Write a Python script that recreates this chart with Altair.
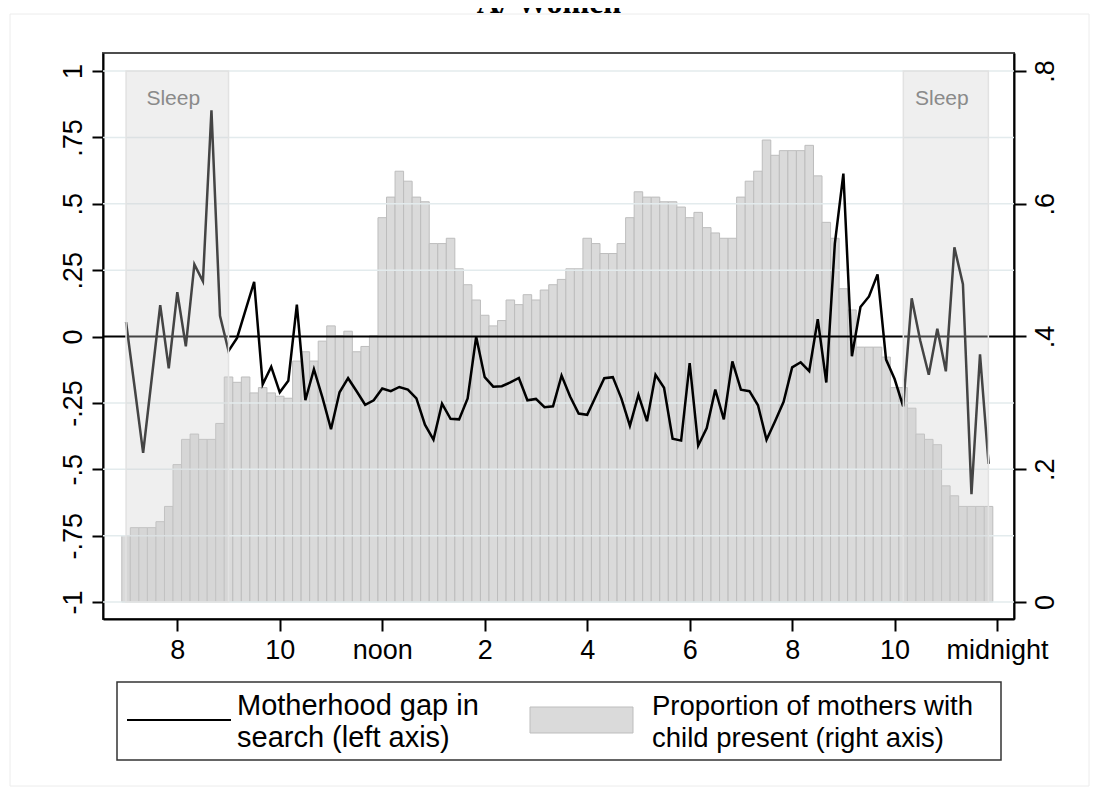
import altair as alt
import pandas as pd

# ---------------- data ----------------
start_hour = 7.0
step_minutes = 10

gap_values = [
    0.054, -0.19, -0.438, -0.16, 0.118, -0.12, 0.167, -0.037, 0.272, 0.208,
    0.852, 0.078, -0.054, -0.005, 0.10, 0.206, -0.18, -0.114, -0.21, -0.167,
    0.12, -0.24, -0.123, -0.23, -0.349, -0.21, -0.157, -0.206, -0.257, -0.24,
    -0.196, -0.206, -0.19, -0.20, -0.233, -0.332, -0.388, -0.253, -0.31, -0.312,
    -0.233, -0.001, -0.153, -0.189, -0.187, -0.173, -0.156, -0.24, -0.235, -0.266,
    -0.263, -0.147, -0.226, -0.29, -0.295, -0.226, -0.157, -0.153, -0.233, -0.336,
    -0.22, -0.319, -0.144, -0.193, -0.385, -0.392, -0.10, -0.411, -0.345, -0.20,
    -0.312, -0.094, -0.20, -0.206, -0.259, -0.389, -0.319, -0.246, -0.116, -0.097,
    -0.13, 0.065, -0.173, 0.35, 0.614, -0.074, 0.111, 0.151, 0.234, -0.087,
    -0.16, -0.263, 0.144, -0.015, -0.144, 0.029, -0.131, 0.336, 0.197, -0.594,
    -0.067, -0.48,
]

share_values = [
    0.100, 0.112, 0.112, 0.112, 0.121, 0.144, 0.207, 0.245, 0.253, 0.245,
    0.245, 0.269, 0.339, 0.331, 0.339, 0.315, 0.323, 0.315, 0.310, 0.307,
    0.363, 0.377, 0.363, 0.393, 0.416, 0.401, 0.408, 0.377, 0.385, 0.401,
    0.579, 0.610, 0.649, 0.634, 0.610, 0.603, 0.540, 0.540, 0.548, 0.502,
    0.478, 0.455, 0.432, 0.416, 0.424, 0.455, 0.448, 0.463, 0.455, 0.470,
    0.478, 0.486, 0.502, 0.502, 0.548, 0.540, 0.525, 0.525, 0.540, 0.579,
    0.618, 0.610, 0.610, 0.603, 0.603, 0.595, 0.579, 0.587, 0.564, 0.556,
    0.548, 0.548, 0.610, 0.634, 0.649, 0.696, 0.673, 0.680, 0.680, 0.680,
    0.688, 0.642, 0.572, 0.548, 0.472, 0.440, 0.384, 0.384, 0.384, 0.369,
    0.323, 0.323, 0.292, 0.253, 0.245, 0.237, 0.175, 0.160, 0.144, 0.144,
    0.144, 0.144,
]

sleep_start = [7.0, 22.17]
sleep_end = [9.0, 23.83]
sleep_labels = ["Sleep", "Sleep"]

x_tick_values = [8, 10, 12, 14, 16, 18, 20, 22, 24]
x_tick_labels = ["8", "10", "noon", "2", "4", "6", "8", "10", "midnight"]

left_tick_values = [-1, -0.75, -0.5, -0.25, 0, 0.25, 0.5, 0.75, 1]
left_tick_labels = ["-1", "-.75", "-.5", "-.25", "0", ".25", ".5", ".75", "1"]
grid_values = [-1, -0.75, -0.5, -0.25, 0.25, 0.5, 0.75, 1]

right_tick_values = [0, 0.2, 0.4, 0.6, 0.8]
right_tick_labels = ["0", ".2", ".4", ".6", ".8"]

legend_line_label = "Motherhood gap in\nsearch (left axis)"
legend_bar_label = "Proportion of mothers with\nchild present (right axis)"
title_text = "A/ Women"

# ---------------- tables ----------------
n = len(gap_values)
hours = [start_hour + i * step_minutes / 60 for i in range(n)]
half = step_minutes / 120
df = pd.DataFrame({
    "hour": hours,
    "gap": gap_values,
    "share": share_values,
    "x0": [h - half for h in hours],
    "x1": [h + half for h in hours],
})
bands = pd.DataFrame({
    "start": sleep_start,
    "end": sleep_end,
    "mid": [(a + b) / 2 for a, b in zip(sleep_start, sleep_end)],
    "label": sleep_labels,
})
grid_df = pd.DataFrame({"v": grid_values})
one = pd.DataFrame({"a": [0]})

FONT = "Liberation Sans"
LABEL_SIZE = 27


def label_expr(vals, labs):
    vs = ",".join(repr(float(v)) for v in vals)
    ls = ",".join("'" + s + "'" for s in labs)
    return f"[{ls}][indexof([{vs}], datum.value)]"


x_scale = alt.Scale(domain=[6.55, 24.33], nice=False, zero=False)
yl_scale = alt.Scale(domain=[-1.064, 1.068], nice=False, zero=False)
yr_scale = alt.Scale(domain=[-0.0256, 0.8271], nice=False, zero=False)

x_axis = alt.Axis(values=x_tick_values, labelExpr=label_expr(x_tick_values, x_tick_labels),
                  orient="bottom", tickSize=12, tickWidth=2, tickColor="black",
                  domainColor="black", domainWidth=2, labelFontSize=LABEL_SIZE, labelFont=FONT,
                  labelColor="black", labelPadding=6, labelFlush=False, labelOverlap=False,
                  grid=False, title=None)

left_axis = alt.Axis(values=left_tick_values, labelExpr=label_expr(left_tick_values, left_tick_labels),
                     orient="left", tickSize=11, tickWidth=2, tickColor="black",
                     domainColor="black", domainWidth=2, labelFontSize=LABEL_SIZE, labelFont=FONT,
                     labelColor="black", labelAngle=270, labelAlign="center",
                     labelBaseline="alphabetic", labelPadding=11, labelFlush=False,
                     labelOverlap=False, grid=False, title=None)

right_axis = alt.Axis(values=right_tick_values, labelExpr=label_expr(right_tick_values, right_tick_labels),
                      orient="right", tickSize=12, tickWidth=2, tickColor="black",
                      domainColor="black", domainWidth=2, labelFontSize=LABEL_SIZE, labelFont=FONT,
                      labelColor="black", labelAngle=270, labelAlign="center",
                      labelBaseline="alphabetic", labelPadding=27, labelFlush=False,
                      labelOverlap=False, grid=False, title=None)

# ---------------- marks ----------------
bars = alt.Chart(df).mark_rect(fill="#dadada", stroke="#bdbdbd", strokeWidth=1).encode(
    x=alt.X("x0:Q", scale=x_scale, axis=x_axis),
    x2="x1",
    y=alt.Y("share:Q", scale=yr_scale, axis=right_axis),
    y2=alt.datum(0),
)

grid = alt.Chart(grid_df).mark_rule(color="#e3ebed", strokeWidth=1.5).encode(
    y=alt.Y("v:Q", scale=yl_scale, axis=left_axis),
)
zero = alt.Chart(one).mark_rule(color="black", strokeWidth=2).encode(
    y=alt.YDatum(0, scale=yl_scale, axis=None),
)
line = alt.Chart(df).mark_line(color="black", strokeWidth=2.5).encode(
    x=alt.X("hour:Q", scale=x_scale, axis=x_axis),
    y=alt.Y("gap:Q", scale=yl_scale, axis=None),
)
band = alt.Chart(bands).mark_rect(fill="#cecece", fillOpacity=0.33, stroke="#e2e2e2",
                                  strokeWidth=1.5).encode(
    x=alt.X("start:Q", scale=x_scale, axis=x_axis),
    x2="end",
    y=alt.YDatum(-1, scale=yl_scale, axis=None),
    y2=alt.datum(1),
)
sleep_txt = alt.Chart(bands).mark_text(color="#8a8a8a", fontSize=21, font=FONT,
                                       baseline="alphabetic", align="center", dx=-4).encode(
    x=alt.X("mid:Q", scale=x_scale, axis=x_axis),
    y=alt.YDatum(0.872, scale=yl_scale, axis=None),
    text="label:N",
)

# legend (positions in pixels relative to plot area)
leg_box = alt.Chart(one).mark_rect(fill="white", stroke="#333333", strokeWidth=1.5).encode(
    x=alt.value(14), x2=alt.value(898), y=alt.value(629), y2=alt.value(707))
leg_line = alt.Chart(one).mark_rule(color="black", strokeWidth=2).encode(
    x=alt.value(24), x2=alt.value(128), y=alt.value(667))
leg_rect = alt.Chart(one).mark_rect(fill="#dadada", stroke="#bdbdbd", strokeWidth=1).encode(
    x=alt.value(427), x2=alt.value(530), y=alt.value(654), y2=alt.value(680))
leg_text1 = alt.Chart(pd.DataFrame({"t": [legend_line_label]})).mark_text(
    fontSize=29, font=FONT, color="black", align="left", baseline="alphabetic",
    lineBreak="\n", lineHeight=32).encode(x=alt.value(134), y=alt.value(662), text="t:N")
leg_text2 = alt.Chart(pd.DataFrame({"t": [legend_bar_label]})).mark_text(
    fontSize=27.5, font=FONT, color="black", align="left", baseline="alphabetic",
    lineBreak="\n", lineHeight=32).encode(x=alt.value(549), y=alt.value(662), text="t:N")

title = alt.Chart(pd.DataFrame({"t": [title_text]})).mark_text(
    fontSize=32, font="Liberation Serif", fontWeight="bold", color="black",
    align="center", baseline="alphabetic").encode(x=alt.value(446), y=alt.value(-40), text="t:N")

outer = alt.Chart(one).mark_rect(fillOpacity=0, stroke="#ececec", strokeWidth=1).encode(
    x=alt.value(-93), x2=alt.value(986), y=alt.value(-39), y2=alt.value(733))

chart = alt.layer(
    bars, grid, zero, line, band, sleep_txt, outer,
    leg_box, leg_line, leg_rect, leg_text1, leg_text2, title,
).resolve_scale(y="independent").properties(
    width=911, height=566,
    autosize=alt.AutoSizeParams(type="none"),
    padding={"left": 95, "top": 45, "right": 76, "bottom": 170},
).configure(background="white", font=FONT).configure_view(stroke="#4d4d4d", strokeWidth=2)

chart.save("out.html", embed_options={"renderer": "svg", "actions": False})
